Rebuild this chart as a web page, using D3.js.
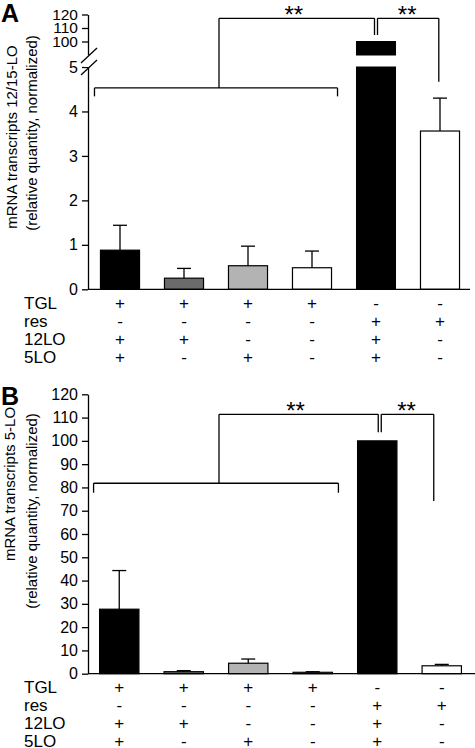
<!DOCTYPE html>
<html>
<head>
<meta charset="utf-8">
<script src="https://cdn.jsdelivr.net/npm/d3@7"></script>
<style>
  html, body { margin: 0; padding: 0; background: #fff; }
  svg { display: block; font-family: "Liberation Sans", Arial, Helvetica, sans-serif; }
</style>
</head>
<body>
<svg id="chart" width="475" height="748"></svg>
<script>
// ---------------- data ----------------
const categories = ["1", "2", "3", "4", "5", "6"];
const barFills = ["#000000", "#6b6b6b", "#b3b3b3", "#ffffff", "#000000", "#ffffff"];

// Panel A: mRNA transcripts 12/15-LO
const valuesA = [0.88, 0.25, 0.53, 0.485, 100, 3.56];
const errorsA = [0.56, 0.22, 0.44, 0.375, 0, 0.74];
const ticksALow = [0, 1, 2, 3, 4, 5];
const ticksAHigh = [100, 110, 120];

// Panel B: mRNA transcripts 5-LO
const valuesB = [27.7, 0.86, 4.5, 0.6, 100, 3.4];
const errorsB = [16.6, 0.44, 1.8, 0.25, 0, 0.6];
const ticksB = [0, 10, 20, 30, 40, 50, 60, 70, 80, 90, 100, 110, 120];

// Treatment table
const rowLabels = ["TGL", "res", "12LO", "5LO"];
const rowTGL  = ["+", "+", "+", "+", "-", "-"];
const rowRes  = ["-", "-", "-", "-", "+", "+"];
const row12LO = ["+", "+", "-", "-", "+", "-"];
const row5LO  = ["+", "-", "+", "-", "+", "-"];
const tableRows = [rowTGL, rowRes, row12LO, row5LO];

// significance annotations (levels in data units)
const sigLevelsA = { group: 4.53, groupEnd: 4.34, top: 117.2, leg: 104.8, rightLeg: 4.67 };
const sigLevelsB = { group: 81.8, groupEnd: 77.7, top: 111.4, leg: 103.7, rightLeg: 74.2 };
const sigLabel = "**";

// ---------------- drawing ----------------
const svg = d3.select("#chart");
const ink = "#000";

function styleAxis(g) {
  g.selectAll("path.domain").attr("stroke", ink).attr("stroke-width", 1.3);
  g.selectAll(".tick line").attr("stroke", ink).attr("stroke-width", 1.3);
  g.selectAll(".tick text").attr("font-size", 16).attr("fill", ink)
    .attr("font-family", '"Liberation Sans", Arial, sans-serif');
}

function line(g, x1, y1, x2, y2) {
  g.append("line").attr("x1", x1).attr("y1", y1).attr("x2", x2).attr("y2", y2)
    .attr("stroke", ink).attr("stroke-width", 1.3);
}

function drawTable(g, x, baseY, gap) {
  const bw = x.bandwidth();
  rowLabels.forEach((lab, r) => {
    const y = baseY + r * gap;
    g.append("text").attr("x", 24).attr("y", y).attr("font-size", 17).attr("fill", ink).text(lab);
    g.selectAll(null).data(tableRows[r]).join("text")
      .attr("x", (d, i) => x(categories[i]) + bw / 2)
      .attr("y", y)
      .attr("text-anchor", "middle")
      .attr("font-size", 17)
      .attr("fill", ink)
      .text(d => d);
  });
}

function drawSig(g, x, yGroup, yTop, levels, cxShift, legOff, rightEnd) {
  const bw = x.bandwidth();
  const left = x(categories[0]) - 6;
  const right = x(categories[3]) + bw + 6;
  const c5 = x(categories[4]) + bw / 2;
  const c6 = x(categories[5]) + bw / 2;
  const cx = (left + right) / 2 + cxShift;
  const yg = yGroup(levels.group), yge = yGroup(levels.groupEnd);
  const yt = yTop(levels.top), yl = yTop(levels.leg);
  // group bracket
  line(g, left, yge, left, yg);
  line(g, left, yg, right, yg);
  line(g, right, yg, right, yge);
  // first comparison
  const l1 = c5 + legOff[0], l2 = c5 + legOff[1];
  line(g, cx, yg, cx, yt);
  line(g, cx, yt, l1, yt);
  line(g, l1, yt, l1, yl);
  // second comparison
  const r6 = c6 + rightEnd;
  line(g, l2, yl, l2, yt);
  line(g, l2, yt, r6, yt);
  line(g, r6, yt, r6, yGroup(levels.rightLeg));
  // stars
  g.append("text").attr("x", (cx + l1) / 2 - 3).attr("y", yt + 4.5)
    .attr("text-anchor", "middle").attr("font-size", 24).attr("fill", ink).text(sigLabel);
  g.append("text").attr("x", (l2 + r6) / 2 - 1).attr("y", yt + 4.5)
    .attr("text-anchor", "middle").attr("font-size", 24).attr("fill", ink).text(sigLabel);
}

// ===== Panel A =====
{
  const g = svg.append("g");
  const x = d3.scaleBand().domain(categories).range([88, 472]).paddingInner(0.39).paddingOuter(0.195);
  const yLow = d3.scaleLinear().domain([0, 5]).range([289.3, 67]);
  const yHigh = d3.scaleLinear().domain([90, 120]).range([55, 14.5]);
  const bw = x.bandwidth();

  // bars
  categories.forEach((c, i) => {
    const v = valuesA[i];
    if (v > 5) {
      g.append("rect").attr("x", x(c)).attr("width", bw)
        .attr("y", yLow(5)).attr("height", yLow(0) - yLow(5))
        .attr("fill", barFills[i]).attr("stroke", ink).attr("stroke-width", 1);
      g.append("rect").attr("x", x(c)).attr("width", bw)
        .attr("y", yHigh(v)).attr("height", yHigh(90) - yHigh(v))
        .attr("fill", barFills[i]).attr("stroke", ink).attr("stroke-width", 1);
    } else {
      g.append("rect").attr("x", x(c)).attr("width", bw)
        .attr("y", yLow(v)).attr("height", yLow(0) - yLow(v))
        .attr("fill", barFills[i]).attr("stroke", ink).attr("stroke-width", 1.2);
    }
    if (errorsA[i] > 0) {
      const cx = x(c) + bw / 2;
      line(g, cx, yLow(v), cx, yLow(v + errorsA[i]));
      line(g, cx - 7, yLow(v + errorsA[i]), cx + 7, yLow(v + errorsA[i]));
    }
  });

  // axes
  const axLow = g.append("g").attr("transform", "translate(88,0)")
    .call(d3.axisLeft(yLow).tickValues(ticksALow).tickFormat(d3.format("d")).tickSize(6).tickSizeOuter(0).tickPadding(4));
  styleAxis(axLow);
  const axHigh = g.append("g").attr("transform", "translate(88,0)")
    .call(d3.axisLeft(yHigh).tickValues(ticksAHigh).tickFormat(d3.format("d")).tickSize(6).tickSizeOuter(0).tickPadding(4));
  styleAxis(axHigh);
  axHigh.selectAll(".tick text").attr("font-size", 15.5);
  // break marks
  g.append("rect").attr("x", 84).attr("y", 55).attr("width", 8).attr("height", 12).attr("fill", "#fff");
  line(g, 81, 63, 97, 48);
  line(g, 81, 75, 97, 60);
  // x baseline
  line(g, 88, yLow(0), 470, yLow(0));

  // y label
  g.append("text").attr("transform", "translate(16.5,137) rotate(-90)")
    .attr("text-anchor", "middle").attr("font-size", 15).attr("fill", ink)
    .text("mRNA transcripts 12/15-LO");
  g.append("text").attr("transform", "translate(36.5,133) rotate(-90)")
    .attr("text-anchor", "middle").attr("font-size", 15).attr("fill", ink)
    .text("(relative quantity, normalized)");

  g.append("text").attr("x", 1).attr("y", 22).attr("font-size", 25).attr("font-weight", "bold")
    .attr("fill", ink).text("A");

  drawSig(g, x, yLow, yHigh, sigLevelsA, 3, [-1.5, 1.5], -1.2);
  drawTable(g, x, 309.3, 17.9);
}

// ===== Panel B =====
{
  const g = svg.append("g");
  const x = d3.scaleBand().domain(categories).range([87, 474]).paddingInner(0.39).paddingOuter(0.195);
  const y = d3.scaleLinear().domain([0, 120]).range([673.7, 394.3]);
  const bw = x.bandwidth();

  categories.forEach((c, i) => {
    const v = valuesB[i];
    g.append("rect").attr("x", x(c)).attr("width", bw)
      .attr("y", y(v)).attr("height", y(0) - y(v))
      .attr("fill", barFills[i]).attr("stroke", ink).attr("stroke-width", 1.2);
    if (errorsB[i] > 0) {
      const cx = x(c) + bw / 2;
      line(g, cx, y(v), cx, y(v + errorsB[i]));
      line(g, cx - 7, y(v + errorsB[i]), cx + 7, y(v + errorsB[i]));
    }
  });

  const ax = g.append("g").attr("transform", "translate(88,0)")
    .call(d3.axisLeft(y).tickValues(ticksB).tickFormat(d3.format("d")).tickSize(6).tickSizeOuter(0).tickPadding(4));
  styleAxis(ax);
  line(g, 88, y(0), 475, y(0));

  g.append("text").attr("transform", "translate(15,484) rotate(-90)")
    .attr("text-anchor", "middle").attr("font-size", 15).attr("fill", ink)
    .text("mRNA transcripts 5-LO");
  g.append("text").attr("transform", "translate(36.5,511) rotate(-90)")
    .attr("text-anchor", "middle").attr("font-size", 15).attr("fill", ink)
    .text("(relative quantity, normalized)");

  g.append("text").attr("x", 1).attr("y", 405).attr("font-size", 25).attr("font-weight", "bold")
    .attr("fill", ink).text("B");

  drawSig(g, x, y, y, sigLevelsB, 3, [1, 4], -8);
  drawTable(g, x, 693.3, 17.9);
}
</script>
</body>
</html>
